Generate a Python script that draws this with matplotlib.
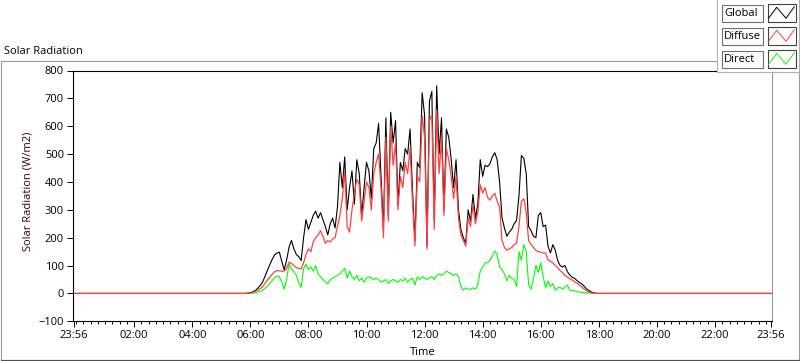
import matplotlib
matplotlib.use('Agg')
import matplotlib.pyplot as plt
import numpy as np
from matplotlib.patches import Rectangle

plt.rcParams['font.family'] = ['Open Sans', 'DejaVu Sans']
plt.rcParams['font.size'] = 8

# readings every 5 min, 05:45 .. 17:55 (W/m2)
global_vals = [0, 0, 1,
    3, 6, 10, 18, 28, 40, 60, 82, 102, 122, 138, 145,
    148, 115, 85, 120, 166, 190, 160, 140, 132, 118, 200, 265,
    230, 255, 280, 295, 270, 290, 265, 240, 210, 250, 270, 235,
    310, 470, 380, 490, 300, 380, 440, 320, 480, 430, 280, 380,
    470, 440, 340, 520, 540, 610, 420, 230, 630, 280, 650, 540,
    620, 320, 470, 440, 520, 500, 590, 370, 190, 470, 450, 720,
    640, 170, 690, 725, 260, 745, 500, 630, 300, 590, 560, 480,
    380, 480, 300, 230, 200, 180, 300, 260, 355, 270, 320, 480,
    420, 460, 455, 465, 490, 505, 480, 400, 270, 235, 205, 220,
    230, 250, 262, 350, 495, 485, 430, 240, 225, 205, 200, 280,
    290, 240, 245, 170, 145, 175, 155, 118, 100, 95, 100, 78,
    66, 58, 54, 46, 39, 34, 25, 16, 10, 5, 2, 0]
diffuse_vals = [0, 0, 1,
    2, 4, 7, 12, 17, 23, 35, 47, 58, 68, 78, 82,
    81, 80, 80, 90, 112, 108, 100, 93, 90, 88, 110, 140,
    160, 150, 185, 200, 210, 225, 205, 180, 190, 185, 195, 200,
    240, 280, 340, 440, 240, 220, 300, 360, 410, 390, 260, 330,
    400, 380, 300, 430, 470, 500, 380, 200, 560, 260, 600, 460,
    540, 300, 420, 380, 470, 430, 520, 330, 170, 420, 400, 640,
    560, 160, 620, 640, 230, 660, 430, 560, 280, 520, 480, 420,
    340, 420, 270, 210, 190, 170, 270, 240, 320, 250, 290, 390,
    360, 380, 345, 335, 350, 360, 330, 310, 190, 165, 155, 160,
    165, 175, 180, 240, 330, 340, 290, 190, 175, 165, 155, 150,
    148, 145, 145, 120, 115, 110, 100, 92, 82, 75, 65, 59,
    53, 48, 42, 36, 30, 23, 15, 9, 5, 2, 1, 0]
direct_vals = [0, 0, 0,
    0, 1, 2, 5, 8, 11, 18, 25, 36, 46, 56, 63,
    60, 40, 15, 50, 106, 88, 78, 65, 38, 22, 90, 105,
    85, 95, 80, 100, 70, 60, 50, 40, 35, 50, 55, 60,
    65, 70, 80, 90, 55, 80, 60, 50, 65, 45, 55, 40,
    55, 60, 55, 50, 55, 50, 40, 45, 50, 35, 45, 50,
    45, 40, 50, 45, 55, 40, 50, 55, 30, 60, 50, 60,
    55, 50, 55, 60, 50, 65, 70, 65, 70, 80, 75, 70,
    65, 70, 60, 25, 12, 20, 15, 15, 20, 15, 30, 80,
    95, 110, 110, 118, 135, 152, 140, 95, 85, 70, 45, 65,
    55, 50, 25, 150, 120, 175, 150, 30, 15, 55, 100, 75,
    110, 60, 20, 45, 25, 35, 12, 20, 22, 15, 22, 30,
    12, 10, 9, 6, 5, 4, 3, 2, 1, 1, 0, 0]

t_start = -4 / 60.0          # 23:56 previous day
t_end = 23 + 56 / 60.0       # 23:56
t_day = 5.75 + np.arange(len(global_vals)) * 5 / 60.0
tt = np.concatenate([[t_start], t_day, [t_end]])

def pad(v):
    return np.concatenate([[0], v, [0]])

tick_pos = [t_start] + list(range(2, 24, 2)) + [t_end]
tick_lab = ['23:56'] + ['%02d:00' % h for h in range(2, 24, 2)] + ['23:56']

fig = plt.figure(figsize=(8, 3.61), dpi=100)

# frame and title, in pixel coords
bg = fig.add_axes([0, 0, 1, 1], zorder=0)
bg.set_xlim(0, 800)
bg.set_ylim(361, 0)
bg.axis('off')
bg.add_patch(Rectangle((0.5, 61), 798, 298.5, fill=False, ec='#9a9a9a', lw=0.8))
bg.plot([0.5, 798.5], [359.5, 359.5], color='#505050', lw=0.8)
bg.text(4, 51, 'Solar Radiation', ha='left', va='center', fontsize=8)

ax = fig.add_axes([73 / 800, 1 - 321.3 / 361, 699 / 800, 250.8 / 361], zorder=1)
ax.plot(tt, pad(direct_vals), color='#00ff00', lw=0.8, zorder=2)
ax.plot(tt, pad(global_vals), color='black', lw=0.8, zorder=3)
ax.plot(tt, pad(diffuse_vals), color='#ff4040', lw=0.9, zorder=4)

ax.set_xlim(t_start - 0.04, t_end + 0.03)
ax.set_ylim(-100, 800)
ax.set_yticks(range(-100, 801, 100))
ax.set_xticks(tick_pos)
ax.set_xticklabels(tick_lab)
ax.set_xticks(np.arange(0, 24, 0.25), minor=True)
ax.tick_params(axis='both', which='major', direction='out', length=4, width=0.7,
               labelsize=8, pad=2.5, colors='black')
ax.tick_params(axis='x', which='minor', direction='out', length=2.5, width=0.7)
for s in ['top', 'left', 'bottom']:
    ax.spines[s].set_linewidth(0.8)
ax.spines['right'].set_color('#9a9a9a')
ax.spines['right'].set_linewidth(0.8)
ax.set_ylabel('Solar Radiation (W/m2)', fontsize=8, color='#400000')
ax.yaxis.set_label_coords(-0.057, 0.52)
ax.set_xlabel('Time', fontsize=8)
ax.xaxis.set_label_coords(0.5, -0.102)

# legend panel, top right
lg = fig.add_axes([0, 0, 1, 1], zorder=3)
lg.set_xlim(0, 800)
lg.set_ylim(361, 0)
lg.axis('off')
lg.patch.set_alpha(0)
lg.add_patch(Rectangle((717, -1), 82, 73, fc='white', ec='#b0b0b0', lw=0.8))
names = ['Global', 'Diffuse', 'Direct']
colors = ['black', '#ff4040', '#00ff00']
for i, (nm, c) in enumerate(zip(names, colors)):
    y0 = 4 + 23 * i
    lg.add_patch(Rectangle((721.5, y0 + 1), 41, 16.5, fc='#fbfbfb', ec='#707070', lw=0.8))
    lg.text(724, y0 + 9.5, nm, ha='left', va='center', fontsize=8)
    lg.add_patch(Rectangle((767.5, y0), 28, 18, fc='white', ec='#404040', lw=0.8))
    lg.plot([768.5, 776.7, 786, 794.3], [y0 + 14.3, y0 + 3.3, y0 + 14.3, y0 + 2.7],
            color=c, lw=0.7)

plt.savefig('out.png', dpi=100)
